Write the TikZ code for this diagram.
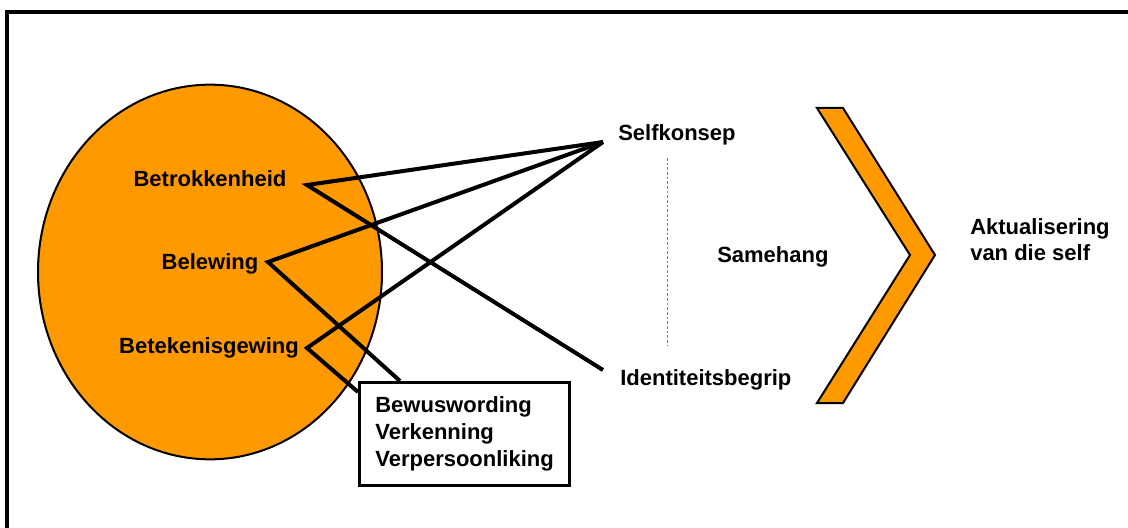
\documentclass[tikz,border=0pt]{standalone}
\usepackage{fontspec}
\setmainfont{Liberation Sans}
\usepackage{tikz}
\usetikzlibrary{shapes.geometric}
\definecolor{selforange}{RGB}{255,153,0}
\definecolor{dashgray}{RGB}{120,120,120}
\newcommand{\wordfont}{\fontsize{16.5}{19.9}\selectfont\bfseries}

\begin{document}
\begin{tikzpicture}[x=0.75pt, y=-0.75pt,
    word/.style={font=\wordfont, inner sep=0pt, anchor=base},
    link/.style={line width=3pt, line join=miter},
    orangeshape/.style={draw=black, line width=1.5pt, fill=selforange},
    listbox/.style={draw, line width=2pt, fill=white, font=\wordfont, align=left, inner xsep=12pt, inner ysep=11pt, anchor=north west},
    dashline/.style={draw=dashgray, line width=0.75pt, dash pattern=on 2pt off 1.5pt}
]
    \useasboundingbox (0,0) rectangle (1128,528);
    \draw[line width=3pt] (7,528) -- (7,12.5) -- (1128,12.5);

    \node[orangeshape, ellipse, minimum width=258pt, minimum height=281pt, inner sep=0pt] (circle) at (210,272) {};

    \node[word] (betrok) at (210,186) {Betrokkenheid};
    \node[word] (belew) at (210,269) {Belewing};
    \node[word] (beteken) at (209,353) {Betekenisgewing};
    \node[word, anchor=base west] (self) at (618,140) {Selfkonsep};
    \node[word, anchor=base west] (ident) at (620,385) {Identiteitsbegrip};
    \node[word, anchor=base west] (samehang) at (717,262) {Samehang};
    \node[word, anchor=north west, align=left] (aktual) at (970,218) {Aktualisering\\van die self};

    % line ends
    \coordinate (pBetrok) at (307,185);
    \coordinate (pBelew) at (268,262);
    \coordinate (pBeteken) at (307,348);
    \coordinate (pSelf) at (603,142);
    \coordinate (pIdent) at (603,370);
    \coordinate (pListA) at (400,381);
    \coordinate (pListB) at (358,392);
    \coordinate (dTop) at (667,158);
    \coordinate (dBot) at (667,345);

    \draw[link] (pSelf) -- (pBetrok) -- (pIdent);
    \draw[link] (pSelf) -- (pBelew) -- (pListA);
    \draw[link] (pSelf) -- (pBeteken) -- (pListB);
    \draw[dashline] (dTop) -- (dBot);

    \node[listbox] (list) at (358,381) {Bewuswording\\Verkenning\\Verpersoonliking};

    \draw[orangeshape, line join=miter] (817,108) -- (843,108) -- (935,255) -- (843,403) -- (817,403) -- (910,255) -- cycle;
\end{tikzpicture}
\end{document}
